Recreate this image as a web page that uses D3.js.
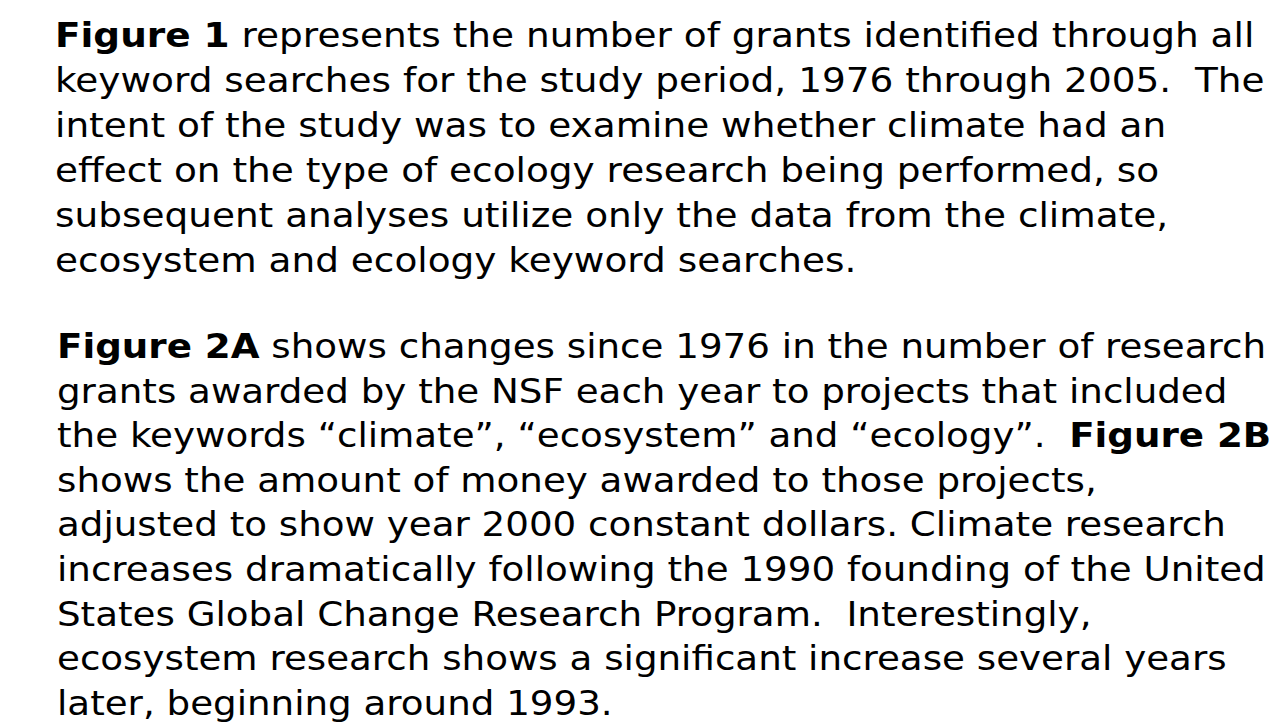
<!DOCTYPE html>
<html><head><meta charset="utf-8">
<script src="https://cdn.jsdelivr.net/npm/d3@7"></script>
<style>html,body{margin:0;padding:0;background:#fff;}svg{display:block;}</style>
</head><body>
<script>
const paragraph1 = [
  [["Figure 1", true], [" represents the number of grants identified through all", false]],
  [["keyword searches for the study period, 1976 through 2005.  The", false]],
  [["intent of the study was to examine whether climate had an", false]],
  [["effect on the type of ecology research being performed, so", false]],
  [["subsequent analyses utilize only the data from the climate,", false]],
  [["ecosystem and ecology keyword searches.", false]]
];
const paragraph2 = [
  [["Figure 2A", true], [" shows changes since 1976 in the number of research", false]],
  [["grants awarded by the NSF each year to projects that included", false]],
  [["the keywords \u201cclimate\u201d, \u201cecosystem\u201d and \u201cecology\u201d.  ", false], ["Figure 2B", true]],
  [["shows the amount of money awarded to those projects,", false]],
  [["adjusted to show year 2000 constant dollars. Climate research", false]],
  [["increases dramatically following the 1990 founding of the United", false]],
  [["States Global Change Research Program.  Interestingly,", false]],
  [["ecosystem research shows a significant increase several years", false]],
  [["later, beginning around 1993.", false]]
];

const W = 1273, H = 728;
const svg = d3.select("body").append("svg").attr("width", W).attr("height", H);

function drawParagraph(lines, x0, y0, yEnd, sx) {
  const y = d3.scaleLinear().domain([0, lines.length - 1]).range([y0, yEnd]);
  const g = svg.append("g")
    .attr("transform", `translate(${x0},0) scale(${sx},1)`);
  g.selectAll("text").data(lines).join("text")
    .attr("x", 0)
    .attr("y", (d, i) => y(i))
    .attr("font-family", "'DejaVu Sans', Verdana, sans-serif")
    .attr("font-size", 33)
    .attr("fill", "#000")
    .style("white-space", "pre")
    .selectAll("tspan").data(d => d).join("tspan")
    .attr("font-weight", d => d[1] ? "bold" : "normal")
    .text(d => d[0]);
}
drawParagraph(paragraph1, 55, 47, 272, 1.134);
drawParagraph(paragraph2, 57, 358, 715, 1.128);
</script>
</body></html>
